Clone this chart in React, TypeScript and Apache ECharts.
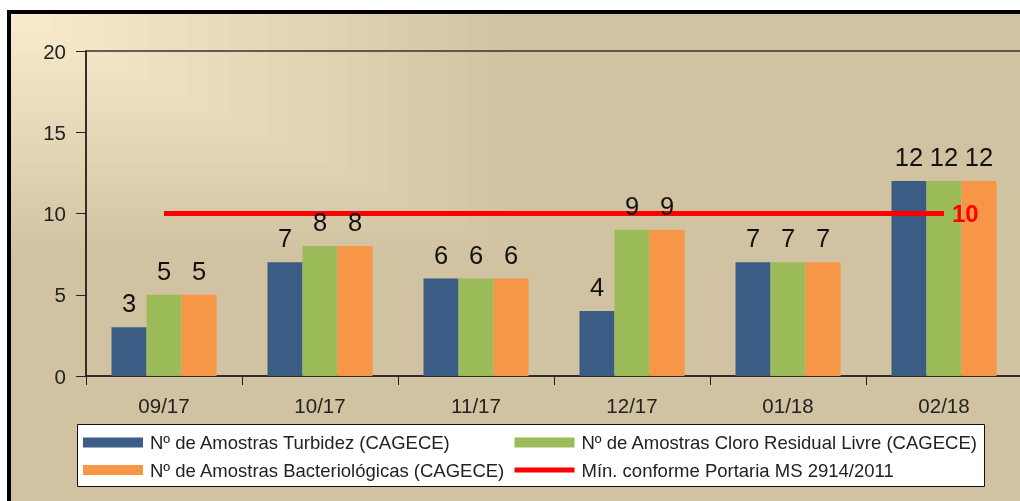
import React, { useEffect, useRef } from "react";
import * as echarts from "echarts";

const categories = ["09/17", "10/17", "11/17", "12/17", "01/18", "02/18"];
const turbidez = [3, 7, 6, 4, 7, 12];
const cloro = [5, 8, 6, 9, 7, 12];
const bacterio = [5, 8, 6, 9, 7, 12];
const minPortaria = [10, 10, 10, 10, 10, 10];

const nameTurb = "Nº de Amostras Turbidez (CAGECE)";
const nameCloro = "Nº de Amostras Cloro Residual Livre (CAGECE)";
const nameBact = "Nº de Amostras Bacteriológicas (CAGECE)";
const nameMin = "Mín. conforme Portaria MS 2914/2011";

const FONT = "'Liberation Sans', Arial, sans-serif";

function lerp(a: number[], b: number[], t: number) {
  return `rgb(${a.map((v, i) => Math.round(v + (b[i] - v) * t)).join(",")})`;
}

export default function App() {
  const ref = useRef<HTMLDivElement>(null);
  useEffect(() => {
    document.body.style.margin = "0";
    document.body.style.overflow = "hidden";
    const chart = echarts.init(ref.current!, undefined, { renderer: "svg" });
    const base = [209, 195, 161];
    const light = [252, 236, 207];
    const N = 26;
    const bgRects: any[] = [];
    for (let k = N; k >= 1; k--) {
      const t = k / N;
      bgRects.push({
        type: "rect",
        z: -9,
        silent: true,
        shape: { x: 11, y: 14, width: 515 * t, height: 245 * t },
        style: { fill: lerp(light, base, t) },
      });
    }
    const labelStyle = {
      show: true,
      position: "top" as const,
      distance: 11,
      fontSize: 25.5,
      color: "#111",
      fontFamily: FONT,
    };
    const legendText = { fontSize: 18.5, color: "#222", fontFamily: FONT, padding: [0, 0, 0, 2] };
    const barSeries = (name: string, data: number[], color: string) => [
      {
        name,
        type: "bar",
        data,
        barWidth: 35,
        barGap: "0%",
        z: 2,
        itemStyle: { color },
      },
      {
        name: name + " (rótulos)",
        type: "bar",
        xAxisIndex: 1,
        data,
        barWidth: 35,
        barGap: "0%",
        z: 10,
        silent: true,
        itemStyle: { color: "rgba(0,0,0,0)" },
        label: labelStyle,
      },
    ];
    chart.setOption({
      animation: false,
      textStyle: { fontFamily: FONT },
      graphic: [
        {
          type: "rect",
          z: -10,
          silent: true,
          shape: { x: 9, y: 12, width: 1040, height: 520 },
          style: { fill: lerp(base, base, 0), stroke: "#000", lineWidth: 4 },
        },
        ...bgRects,
        {
          type: "rect",
          z: 1,
          silent: true,
          shape: { x: 77.5, y: 424.5, width: 907, height: 62 },
          style: { fill: "#fff", stroke: "#111", lineWidth: 1 },
        },
      ],
      grid: {
        left: 86,
        top: 51,
        right: 2,
        bottom: 134,
        show: true,
        backgroundColor: "transparent",
        borderColor: "#333",
        borderWidth: 1.5,
      },
      legend: [
        {
          orient: "vertical",
          left: 83,
          top: 433,
          padding: 0,
          itemWidth: 60,
          itemHeight: 10,
          itemGap: 8.5,
          icon: "rect",
          data: [nameTurb, nameBact],
          textStyle: legendText,
        },
        {
          orient: "vertical",
          left: 512,
          top: 433,
          padding: 0,
          itemWidth: 60,
          itemHeight: 10,
          itemGap: 8.5,
          data: [
            { name: nameCloro, icon: "rect" },
            { name: nameMin, itemStyle: { opacity: 0 }, lineStyle: { width: 5, color: "#ff0000" } },
          ],
          textStyle: legendText,
        },
      ],
      xAxis: [
        {
          type: "category",
          data: categories,
          boundaryGap: true,
          axisLine: { lineStyle: { color: "#222", width: 1.5 } },
          axisTick: { show: true, length: 9, lineStyle: { color: "#222" } },
          axisLabel: { fontSize: 20.5, color: "#222", margin: 19, fontFamily: FONT },
        },
        {
          type: "category",
          data: categories,
          boundaryGap: true,
          show: false,
        },
      ],
      yAxis: {
        type: "value",
        min: 0,
        max: 20,
        interval: 5,
        splitLine: { show: false },
        axisLine: { show: true, lineStyle: { color: "#222", width: 1.5 } },
        axisTick: { show: true, length: 10, lineStyle: { color: "#222" } },
        axisLabel: { fontSize: 20.5, color: "#222", margin: 20, fontFamily: FONT },
      },
      series: [
        ...barSeries(nameTurb, turbidez, "#3a5c85"),
        ...barSeries(nameCloro, cloro, "#9bbb59"),
        ...barSeries(nameBact, bacterio, "#f79646"),
        {
          name: nameMin,
          type: "line",
          z: 5,
          symbol: "none",
          showSymbol: false,
          lineStyle: { color: "#ff0000", width: 5 },
          itemStyle: { color: "#ff0000" },
          endLabel: {
            show: true,
            distance: 8,
            formatter: "{c}",
            color: "#ff0000",
            fontSize: 24,
            fontWeight: "bold",
            fontFamily: FONT,
          },
          data: minPortaria,
        },
      ],
    });
    return () => chart.dispose();
  }, []);
  return (
    <div
      ref={ref}
      style={{ position: "fixed", left: 0, top: 0, width: 1024, height: 510 }}
    />
  );
}
